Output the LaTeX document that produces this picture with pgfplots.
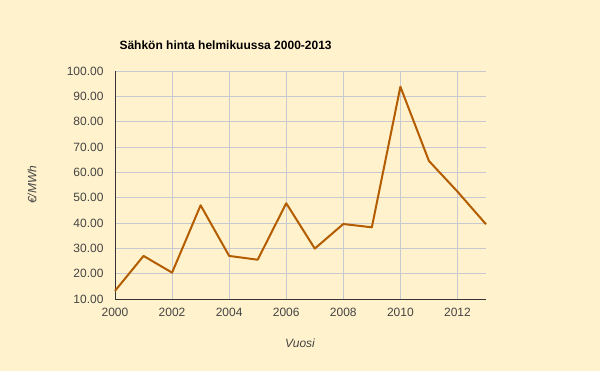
\documentclass[border=0pt]{standalone}
\usepackage{pgfplots}
\pgfplotsset{compat=1.18}
\usepackage{fontspec}
\setmainfont{Liberation Sans}
\definecolor{bg}{HTML}{FFF2CC}
\definecolor{ln}{HTML}{B35C00}
\definecolor{gr}{HTML}{C8C8D0}
\definecolor{tx}{HTML}{444444}
\begin{document}
\begin{tikzpicture}
\fill[bg] (0pt,0pt) rectangle (600pt,371pt);
\begin{axis}[
  at={(115pt,72pt)}, anchor=south west,
  scale only axis, width=371pt, height=228pt,
  xmin=2000, xmax=2013, ymin=10, ymax=100,
  xtick={2000,2002,...,2012},
  ytick={10,20,...,100},
  grid=major,
  grid style={gr, line width=0.8pt},
  axis x line*=bottom, axis y line*=left,
  axis line style={black!80, line width=0.8pt, -},
  tick style={draw=none},
  xticklabel style={font=\fontsize{12}{14}\selectfont, text=tx, yshift=-6pt},
  yticklabel style={/pgf/number format/.cd, fixed, fixed zerofill, precision=2, /tikz/.cd, font=\fontsize{12}{14}\selectfont, text=tx, xshift=-8pt},
  /pgf/number format/assume math mode=true,
  xticklabel={\pgfmathprintnumber[1000 sep=]{\tick}},
  clip=false,
]
\addplot[ln, line width=2pt, line join=round] coordinates {
(2000,13.2) (2001,27.0) (2002,20.4) (2003,47.0) (2004,27.0) (2005,25.5)
(2006,47.8) (2007,29.9) (2008,39.6) (2009,38.3) (2010,93.8) (2011,64.5)
(2012,52.4) (2013,39.5)};
\end{axis}
\node[anchor=base west, font=\bfseries\fontsize{12}{14}\selectfont] at (116pt,321pt) {Sähkön hinta helmikuussa 2000-2013};
\node[rotate=90, font=\itshape\fontsize{12}{14}\selectfont, text=tx] at (32pt,186pt) {€/MWh};
\node[font=\itshape\fontsize{12}{14}\selectfont, text=tx] at (300pt,28pt) {Vuosi};
\end{tikzpicture}
\end{document}
